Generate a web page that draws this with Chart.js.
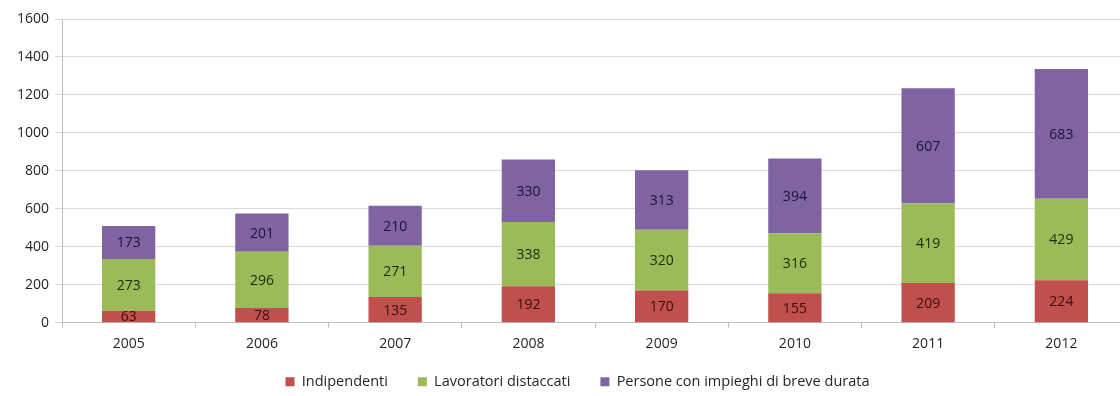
<!DOCTYPE html>
<html>
<head>
<meta charset="utf-8">
<script src="https://cdn.jsdelivr.net/npm/chart.js@4"></script>
<style>
  html, body { margin: 0; padding: 0; background: #fff; overflow: hidden; }
  #wrap { width: 1150px; height: 396px; position: relative; }
</style>
</head>
<body>
<div id="wrap"><canvas id="chart"></canvas></div>
<script>
// Dati
const anni = ['2005', '2006', '2007', '2008', '2009', '2010', '2011', '2012'];
const indipendenti = [63, 78, 135, 192, 170, 155, 209, 224];
const lavoratoriDistaccati = [273, 296, 271, 338, 320, 316, 419, 429];
const breveDurata = [173, 201, 210, 330, 313, 394, 607, 683];
const tickY = [0, 200, 400, 600, 800, 1000, 1200, 1400, 1600];

const FONT = 'Open Sans, Noto Sans, sans-serif';
const LEGEND_SHIFT = 16;

// etichette dei valori al centro di ogni segmento
const valueLabels = {
    id: 'valueLabels',
    afterDatasetsDraw(chart) {
        const ctx = chart.ctx;
        ctx.save();
        ctx.font = '14px ' + FONT;
        ctx.textAlign = 'center';
        ctx.textBaseline = 'middle';
        chart.data.datasets.forEach(function (ds, i) {
            const meta = chart.getDatasetMeta(i);
            ctx.fillStyle = ds.labelColor;
            meta.data.forEach(function (bar, j) {
                const yMid = (bar.y + bar.base) / 2;
                ctx.fillText(String(ds.data[j]), bar.x, yMid + 1);
            });
        });
        ctx.restore();
    }
};

// legenda più compatta in verticale, stessa spaziatura orizzontale
const compactLegend = {
    id: 'compactLegend',
    beforeLayout(chart) {
        const lg = chart.legend;
        if (!lg || lg._compact) return;
        const fit = lg.fit;
        lg.fit = function () {
            fit.call(this);
            this.height -= LEGEND_SHIFT;
        };
        lg.draw = function () {
            const c = this.ctx;
            c.save();
            c.translate(8, -LEGEND_SHIFT);
            this._draw();
            c.restore();
        };
        lg._compact = true;
    }
};

new Chart(document.getElementById('chart'), {
    type: 'bar',
    data: {
        labels: anni,
        datasets: [
            { label: 'Indipendenti', data: indipendenti, backgroundColor: '#c0504d', labelColor: '#3a0e0e' },
            { label: 'Lavoratori distaccati', data: lavoratoriDistaccati, backgroundColor: '#9bbb59', labelColor: '#1c2a08' },
            { label: 'Persone con impieghi di breve durata', data: breveDurata, backgroundColor: '#8064a2', labelColor: '#1a1238' }
        ]
    },
    options: {
        responsive: true,
        maintainAspectRatio: false,
        animation: false,
        barPercentage: 0.4,
        categoryPercentage: 1,
        layout: { padding: { top: 19, right: 22, left: 11, bottom: -3 } },
        plugins: {
            legend: {
                position: 'bottom',
                labels: {
                    boxWidth: 9, boxHeight: 9, padding: 30,
                    color: '#262626',
                    font: { family: FONT, size: 14.5 }
                }
            },
            tooltip: { enabled: false }
        },
        scales: {
            x: {
                stacked: true,
                grid: { display: true, drawOnChartArea: false, offset: true, tickLength: 5, color: '#bfbfbf' },
                border: { color: '#bfbfbf' },
                ticks: { color: '#262626', font: { family: FONT, size: 14 }, padding: 8 }
            },
            y: {
                stacked: true,
                min: 0,
                max: 1600,
                afterBuildTicks: function (axis) {
                    axis.ticks = tickY.map(function (v) { return { value: v }; });
                },
                grid: { color: '#d9d9d9', tickLength: 7 },
                border: { color: '#bfbfbf' },
                ticks: {
                    color: '#262626', font: { family: FONT, size: 14 }, padding: 6,
                    callback: function (v) { return String(v); }
                }
            }
        }
    },
    plugins: [valueLabels, compactLegend]
});
</script>
</body>
</html>
